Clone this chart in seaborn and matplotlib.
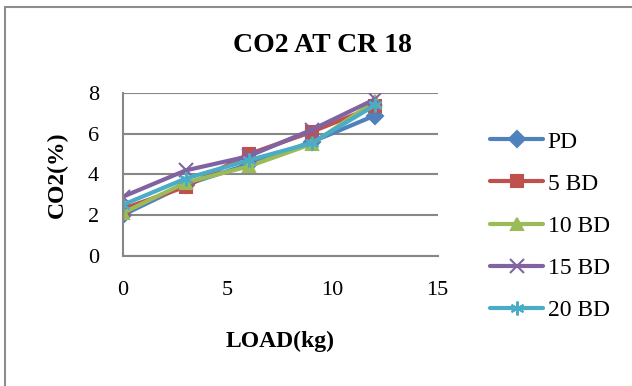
import matplotlib
matplotlib.use("Agg")
import matplotlib.pyplot as plt
import seaborn as sns
import pandas as pd
from matplotlib.patches import Rectangle

loads = [0, 3, 6, 9, 12]
series_names = ["PD", "5 BD", "10 BD", "15 BD", "20 BD"]
pd_vals = [2.0, 3.5, 4.5, 5.6, 6.9]
bd5_vals = [2.3, 3.4, 5.0, 6.1, 7.35]
bd10_vals = [2.1, 3.6, 4.4, 5.5, 7.6]
bd15_vals = [2.9, 4.2, 4.9, 6.2, 7.7]
bd20_vals = [2.5, 3.8, 4.7, 5.55, 7.4]
x_ticks = [0, 5, 10, 15]
y_ticks = [0, 2, 4, 6, 8]

all_vals = [pd_vals, bd5_vals, bd10_vals, bd15_vals, bd20_vals]

sns.set_theme(style="white")
plt.rcParams["font.family"] = ["Liberation Serif", "DejaVu Serif"]
plt.rcParams["text.color"] = "black"
plt.rcParams["axes.labelcolor"] = "black"
plt.rcParams["xtick.color"] = "black"
plt.rcParams["ytick.color"] = "black"

colors = ["#4F81BD", "#C0504D", "#9BBB59", "#8064A2", "#4BACC6"]
marker_list = ["D", "s", "^", "x", (6, 2, 0)]
msizes = [8, 8.5, 9, 10, 10]

fig = plt.figure(figsize=(6.32, 3.86), dpi=100)
ax = fig.add_axes([0.194, 0.3376, 0.4984, 0.4207])

for name, vals, c, m, ms in zip(series_names, all_vals, colors, marker_list, msizes):
    d = pd.DataFrame({"load": loads, "co2": vals})
    sns.lineplot(data=d, x="load", y="co2", color=c, marker=m, markersize=ms,
                 markeredgewidth=1.5, markeredgecolor=c, markerfacecolor=c,
                 linewidth=3, label=name, ax=ax)

ax.set_xlim(0, 15)
ax.set_ylim(0, 8)
ax.set_xticks(x_ticks)
ax.set_yticks(y_ticks)
ax.grid(axis="y", color="#878787", linewidth=1.5)
ax.grid(axis="x", visible=False)
for s in ["top", "right"]:
    ax.spines[s].set_visible(False)
for s in ["left", "bottom"]:
    ax.spines[s].set_color("#878787")
    ax.spines[s].set_linewidth(1.5)
ax.tick_params(axis="both", length=0, labelsize=16, colors="black")
ax.tick_params(axis="x", pad=18)
ax.tick_params(axis="y", pad=17)

ax.set_xlabel("LOAD(kg)", fontsize=17, fontweight="bold")
ax.xaxis.set_label_coords(0.5, -0.525)
ax.xaxis.label.set_va("center")
ax.set_ylabel("CO2(%)", fontsize=17, fontweight="bold")
ax.yaxis.set_label_coords(-0.2086, 0.5)
ax.yaxis.label.set_va("center")

handles, labels = ax.get_legend_handles_labels()
ax.legend_.remove()
fig.legend(handles, labels, loc="center left", bbox_to_anchor=(490 / 632, 1 - 226 / 386),
           frameon=False, fontsize=17, handlelength=2.25, handletextpad=0.2,
           labelspacing=0.87, borderpad=0, borderaxespad=0)

fig.text(322 / 632, 1 - 45 / 386, "CO2 AT CR 18", ha="center", va="center",
         fontsize=20, fontweight="bold")

fig.patches.append(Rectangle((5 / 632, -0.1), 1.2, 1 - 7 / 386 + 0.1,
                             transform=fig.transFigure, fill=False,
                             edgecolor="#8c8c8c", linewidth=1.5))

fig.savefig("out.png", dpi=100, facecolor="white")
